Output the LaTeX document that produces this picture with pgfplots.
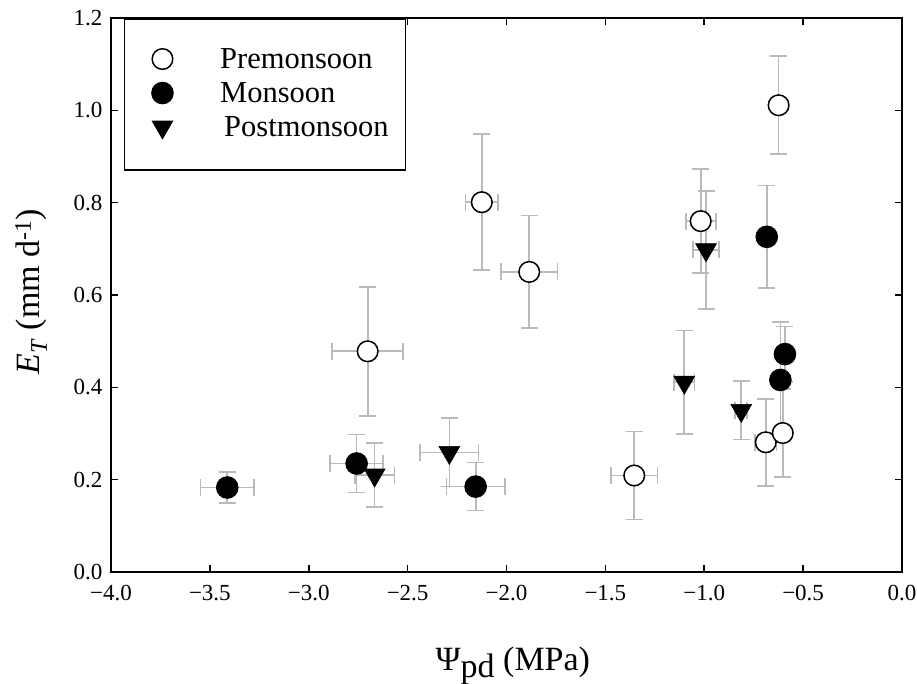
\documentclass[border=0pt]{standalone}
\usepackage{fontspec}
\setmainfont{Liberation Serif}
\usepackage{pgfplots}
\pgfplotsset{compat=1.18}
\usepackage{pgfplotstable}
\definecolor{errgray}{RGB}{186,186,186}

\pgfplotstableread{
x y ex ey
-2.702 0.478 0.180 0.140
-2.125 0.801 0.083 0.147
-1.885 0.650 0.143 0.122
-1.354 0.209 0.118 0.095
-1.018 0.760 0.076 0.113
-0.689 0.281 0.055 0.094
-0.603 0.301 0.030 0.095
-0.624 1.011 0.030 0.106
}\pre
\pgfplotstableread{
x y ex ey
-3.412 0.183 0.135 0.034
-2.758 0.235 0.135 0.063
-2.156 0.185 0.147 0.052
-0.684 0.726 0.030 0.111
-0.615 0.416 0.030 0.125
-0.592 0.472 0.030 0.060
}\mon
\pgfplotstableread{
x y ex ey
-2.667 0.210 0.100 0.069
-2.289 0.259 0.148 0.074
-1.101 0.411 0.052 0.112
-0.991 0.698 0.067 0.128
-0.813 0.350 0.030 0.063
}\post

\pgfplotsset{
  errplot/.style={only marks, mark=*, mark options={draw=none, fill=none}, forget plot,
    error bars/.cd, x dir=both, x explicit, y dir=both, y explicit,
    error mark=-,
    error bar style={draw=errgray, line width=1.7pt},
    error mark options={rotate=90, draw=errgray, line width=1.7pt, mark size=8.5pt}},
}

\begin{document}
\begin{tikzpicture}
\useasboundingbox (0,0) rectangle (917pt,684pt);
\begin{axis}[
  at={(111pt,112pt)}, anchor=south west,
  scale only axis, width=791pt, height=554pt,
  xmin=-4, xmax=0, ymin=0, ymax=1.2,
  xtick={-4,-3.5,-3,-2.5,-2,-1.5,-1,-0.5,0},
  xticklabels={−4.0,−3.5,−3.0,−2.5,−2.0,−1.5,−1.0,−0.5,0.0},
  ytick={0,0.2,0.4,0.6,0.8,1.0,1.2},
  yticklabels={0.0,0.2,0.4,0.6,0.8,1.0,1.2},
  tick align=inside, major tick length=7pt,
  every tick/.style={black, line width=1.6pt},
  axis line style={black, line width=1.8pt},
  ticklabel style={font=\fontsize{23}{23}\selectfont},
  xticklabel style={yshift=-10pt},
  yticklabel style={xshift=-5pt},
  xlabel={\fontsize{34}{34}\selectfont Ψ\raisebox{-7pt}{pd} (MPa)},
  xlabel style={at={(axis description cs:0.508,0)}, anchor=base, yshift=-99pt},
  ylabel={\fontsize{34}{34}\selectfont \textit{E}\textsubscript{\textit{T}} (mm d\textsuperscript{-1})},
  ylabel style={at={(axis description cs:-0.09,0.506)}, anchor=base, rotate=0},
  legend image code/.code={\path (-20pt,0pt) (20pt,0pt); \draw[#1] plot coordinates {(0pt,1.5pt)};},
  legend cell align=left,
  legend style={at={(axis description cs:0.0164,0.9995)}, anchor=north west,
    draw=black, line width=1.5pt, fill=white,
    inner xsep=17pt, inner ysep=24.5pt,
    column sep=37pt, row sep=0pt,
    nodes={inner sep=0pt, text height=25pt, text depth=9pt, font=\fontsize{30.5}{30.5}\selectfont}},
]
% error bars first
\addplot[errplot] table[x=x, y=y, x error=ex, y error=ey] {\pre};
\addplot[errplot] table[x=x, y=y, x error=ex, y error=ey] {\mon};
\addplot[errplot] table[x=x, y=y, x error=ex, y error=ey] {\post};
% markers
\addplot[only marks, mark=*, mark size=10.3pt,
  mark options={fill=white, draw=black, line width=1.5pt}]
  table[x=x, y=y] {\pre};
\addlegendentry{Premonsoon}
\addplot[only marks, mark=*, mark size=10.8pt,
  mark options={fill=black, draw=black, line width=1pt}]
  table[x=x, y=y] {\mon};
\addlegendentry{Monsoon}
\addplot[only marks, mark=triangle*, mark size=12pt,
  mark options={fill=black, draw=black, line width=0.6pt, rotate=180}]
  table[x=x, y=y] {\post};
\addlegendentry{\hspace{4pt}Postmonsoon}
\end{axis}
\end{tikzpicture}
\end{document}
